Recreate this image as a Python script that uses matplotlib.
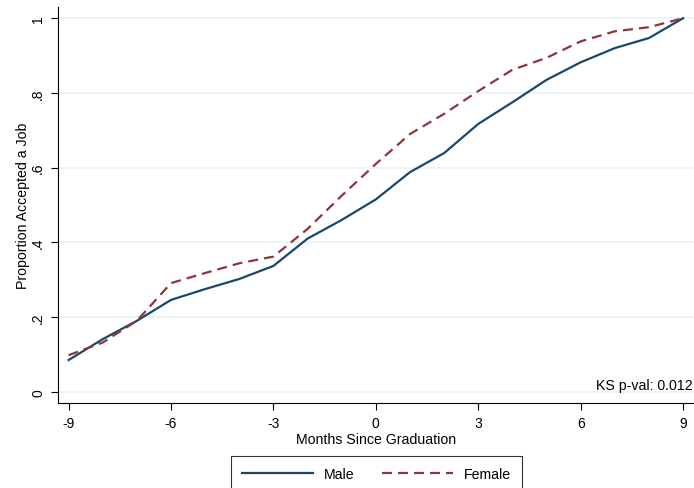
import numpy as np
import matplotlib
matplotlib.use('Agg')
import matplotlib.pyplot as plt

plt.rcParams['font.family'] = ['Liberation Sans', 'DejaVu Sans']

# Months relative to graduation and cumulative share who accepted a job
months = [-9, -8, -7, -6, -5, -4, -3, -2, -1, 0, 1, 2, 3, 4, 5, 6, 7, 8, 9]
male = [0.085, 0.141, 0.190, 0.246, 0.275, 0.302, 0.337, 0.410, 0.460, 0.515,
        0.588, 0.639, 0.717, 0.775, 0.835, 0.882, 0.920, 0.947, 1.0]
female = [0.098, 0.132, 0.190, 0.291, 0.318, 0.344, 0.362, 0.436, 0.525, 0.610,
          0.690, 0.744, 0.805, 0.862, 0.894, 0.938, 0.965, 0.976, 1.0]
xticks = [-9, -6, -3, 0, 3, 6, 9]
yticks = [0, 0.2, 0.4, 0.6, 0.8, 1.0]
ytick_labels = ['0', '.2', '.4', '.6', '.8', '1']
ks_text = 'KS p-val: 0.012'

fig = plt.figure(figsize=(6.94, 4.89), dpi=100)
ax = fig.add_axes([0.0831, 0.1738, 0.9169, 0.8098])

ax.plot(months, male, color='#1a476f', lw=1.6, label='Male')
ax.plot(months, female, color='#90353b', lw=1.6, dashes=(4.5, 2.7), label='Female')

ax.set_xlim(-9.32, 9.32)
ax.set_ylim(-0.03, 1.03)
ax.set_xticks(xticks)
ax.set_xticklabels([str(t) for t in xticks])
ax.set_yticks(yticks)
ax.set_yticklabels(ytick_labels, rotation=90, va='center')
ax.tick_params(labelsize=10, length=5, width=0.8, direction='out', pad=4)
ax.grid(axis='y', color='#eaf2f3', lw=1.2)
ax.set_axisbelow(True)
for s in ['top', 'right']:
    ax.spines[s].set_visible(False)
for s in ['left', 'bottom']:
    ax.spines[s].set_linewidth(0.8)

ax.set_xlabel('Months Since Graduation', fontsize=10.2, labelpad=2)
ax.set_ylabel('Proportion Accepted a Job', fontsize=10.2, labelpad=1)
ax.text(9.27, 0.0, ks_text, fontsize=10.2, ha='right', va='bottom')

leg = fig.legend(loc='upper center', bbox_to_anchor=((235 + 518) / 2 / 694, 1 - 456.7 / 489),
                 ncol=2, fontsize=10.2, frameon=True, fancybox=False, edgecolor='black',
                 handlelength=5, handletextpad=0.8, columnspacing=1.9, borderpad=0.8,
                 borderaxespad=0)
leg.get_frame().set_linewidth(0.8)

fig.savefig('out.png', dpi=100, facecolor='white')
